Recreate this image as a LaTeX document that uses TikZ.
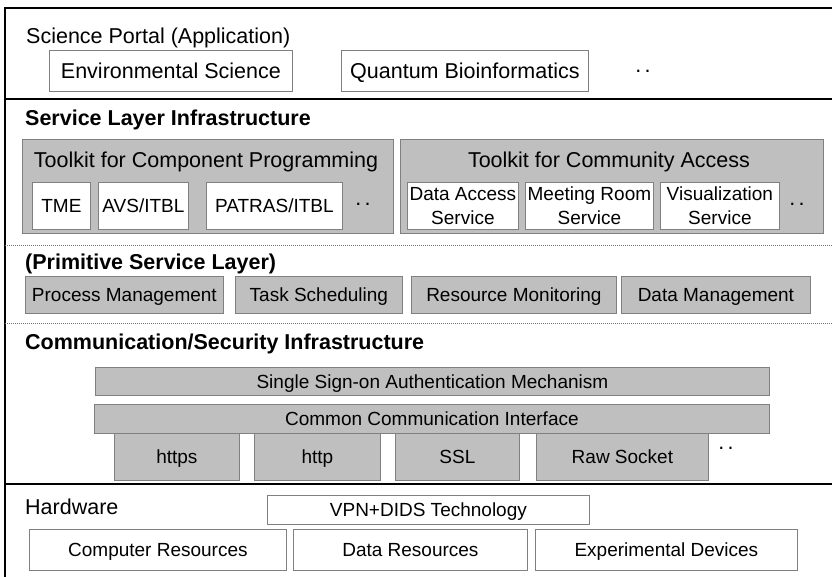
\documentclass[tikz,border=0pt]{standalone}
\usepackage{fontspec}
\setmainfont{Liberation Sans}
\newcommand\mybox[7]{\node[#2, anchor=north west, minimum width={#5-#3}, minimum height={#6-#4}] (#1) at (#3,#4) {#7};}
\tikzset{
  big/.style={font=\fontsize{21.5}{24}\selectfont, text height=15.4pt, text depth=0pt},
  small/.style={font=\fontsize{19}{24}\selectfont, text height=13.6pt, text depth=0pt},
  two/.style={font=\fontsize{19}{24}\selectfont},
  head/.style={font=\bfseries\fontsize{21.5}{24}\selectfont, anchor=west, inner sep=0pt, text height=15.4pt, text depth=0pt},
  wbox/.style={draw=black!50, fill=white, line width=0.8pt, inner sep=0pt, align=center},
  gbox/.style={draw=black!50, fill=black!25, line width=0.8pt, inner sep=0pt, align=center},
  sepline/.style={line width=1.4pt, black},
  dotline/.style={line width=0.8pt, black!55, dash pattern=on 1pt off 1pt},
  dots/.style={font=\fontsize{21.5}{24}\selectfont, inner sep=0pt},
}
\begin{document}
\begin{tikzpicture}[x=1pt, y=-1pt]
\useasboundingbox (0,0) rectangle (832,577);
\clip (0,0) rectangle (832,577);
\fill[white] (0,0) rectangle (832,577);
\draw[line width=1.4pt] (5,8) rectangle (845,590);
% application layer
\node[big, anchor=west, inner sep=0pt] (portal) at (26,36) {Science Portal (Application)};
\mybox{env}{wbox,big}{49}{50}{292}{91}{Environmental Science}
\mybox{qb}{wbox,big}{341}{50}{588}{91}{Quantum Bioinformatics}
\node[dots] (d1) at (643,71) {.\kern3.5pt.};
\coordinate (l1a) at (5,99); \coordinate (l1b) at (845,99);
\draw[sepline] (l1a) -- (l1b);
% service layer
\node[head] (slt) at (25,118) {Service Layer Infrastructure};
\mybox{tcp}{gbox}{22}{139}{393}{233}{}
\node[big] (tcpt) at (206,160) {Toolkit for Component Programming};
\mybox{tme}{wbox,small}{32}{182}{90}{229}{TME}
\mybox{avs}{wbox,small}{98}{182}{188}{229}{AVS/ITBL}
\mybox{pat}{wbox,small}{206}{182}{342}{229}{PATRAS/ITBL}
\node[dots] (d2) at (363,204) {.\kern3.5pt.};
\mybox{tca}{gbox}{400}{139}{823}{233}{}
\node[big] (tcat) at (609,160) {Toolkit for Community Access};
\mybox{das}{wbox,two}{407}{182}{518}{229}{Data Access\\Service}
\mybox{mrs}{wbox,two}{525}{182}{653}{229}{Meeting Room\\Service}
\mybox{vis}{wbox,two}{660}{182}{779}{229}{Visualization\\Service}
\node[dots] (d3) at (797,204) {.\kern3.5pt.};
\coordinate (l2a) at (5,245); \coordinate (l2b) at (845,245);
\draw[dotline] (l2a) -- (l2b);
% primitive
\node[head] (pst) at (25,262) {(Primitive Service Layer)};
\mybox{pm}{gbox,small}{25}{276}{223}{313}{Process Management}
\mybox{ts}{gbox,small}{235}{276}{402}{313}{Task Scheduling}
\mybox{rm}{gbox,small}{411}{276}{616}{313}{Resource Monitoring}
\mybox{dm}{gbox,small}{621}{276}{810}{313}{Data Management}
\coordinate (l3a) at (5,323); \coordinate (l3b) at (845,323);
\draw[dotline] (l3a) -- (l3b);
% communication
\node[head] (cst) at (25,342) {Communication/Security Infrastructure};
\mybox{sso}{gbox,small}{95}{367}{769}{395}{Single Sign-on Authentication Mechanism}
\mybox{cci}{gbox,small}{94}{404}{769}{433}{Common Communication Interface}
\mybox{https}{gbox,small}{114}{433}{239}{480}{https}
\mybox{http}{gbox,small}{254}{433}{380}{480}{http}
\mybox{ssl}{gbox,small}{395}{433}{519}{480}{SSL}
\mybox{raw}{gbox,small}{536}{433}{708}{480}{Raw Socket}
\node[dots] (d4) at (726,448) {.\kern3.5pt.};
\coordinate (l4a) at (5,484); \coordinate (l4b) at (845,484);
\draw[sepline] (l4a) -- (l4b);
% hardware
\node[big, anchor=west, inner sep=0pt] (hw) at (25,507) {Hardware};
\mybox{vpn}{wbox,small}{267}{495}{589}{524}{VPN+DIDS Technology}
\mybox{cr}{wbox,small}{29}{529}{286}{570}{Computer Resources}
\mybox{dr}{wbox,small}{293}{529}{527}{570}{Data Resources}
\mybox{ed}{wbox,small}{535}{529}{797}{570}{Experimental Devices}
\end{tikzpicture}
\end{document}
